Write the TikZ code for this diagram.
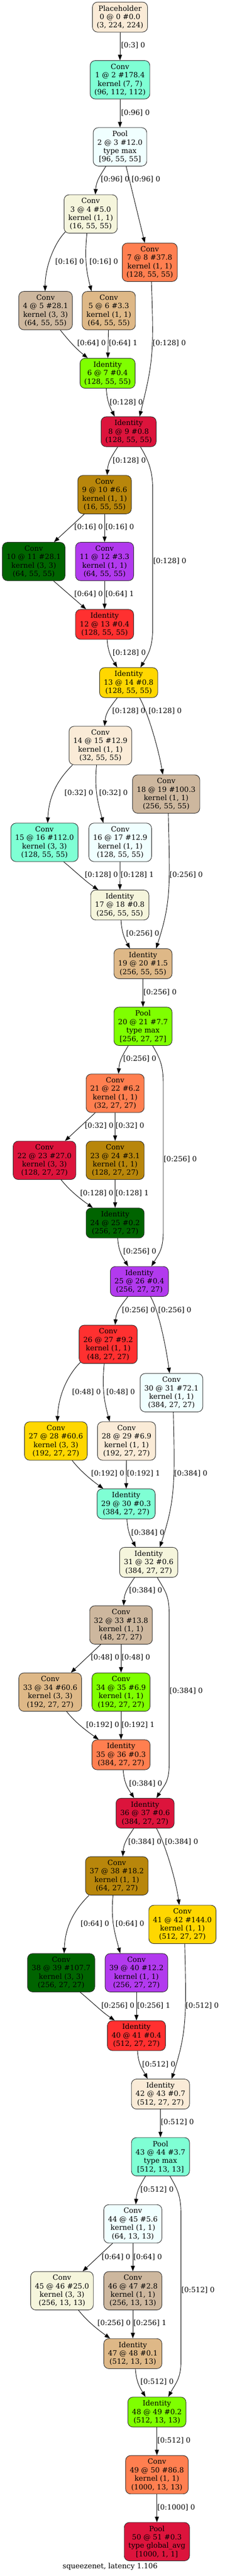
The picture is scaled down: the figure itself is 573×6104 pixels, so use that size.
\documentclass[tikz,border=0pt]{standalone}
\usepackage{fontspec}
\setmainfont{DejaVu Serif}
\usepackage{tikz}
\usetikzlibrary{arrows.meta,calc}
\definecolor{antiquewhite}{HTML}{FAEBD7}
\definecolor{aquamarine}{HTML}{7FFFD4}
\definecolor{azure}{HTML}{F0FFFF}
\definecolor{beige}{HTML}{F5F5DC}
\definecolor{bisque3}{HTML}{CDB79E}
\definecolor{burlywood}{HTML}{DEB887}
\definecolor{chartreuse}{HTML}{7FFF00}
\definecolor{coral}{HTML}{FF7F50}
\definecolor{crimson}{HTML}{DC143C}
\definecolor{darkgoldenrod}{HTML}{B8860B}
\definecolor{darkgreen}{HTML}{006400}
\definecolor{darkorchid2}{HTML}{B23AEE}
\definecolor{firebrick1}{HTML}{FF3030}
\definecolor{gold}{HTML}{FFD700}
\begin{document}
\begin{tikzpicture}[x=1pt,y=-1pt,
	box/.style={draw=black!85,line width=1.1pt,rounded corners=12pt,align=center,inner xsep=10pt,inner ysep=0pt,font=\fontsize{17}{20}\selectfont},
	op/.style={box,fill=#1,minimum height=91pt},
	sum/.style={box,fill=#1,minimum height=71pt},
	flow/.style={line width=1.1pt,-{Triangle[length=13pt,width=9.5pt]}},
	lbl/.style={anchor=west,inner sep=0pt,font=\fontsize{17}{20}\selectfont}]
	\useasboundingbox (0,0) rectangle (573,6104);
	\node[sum=antiquewhite] (n0) at (284.5,40.5) {Placeholder\\ 0 @ 0 \#0.0\\ (3, 224, 224)};
	\node[op=aquamarine] (n1) at (284.5,189) {Conv\\ 1 @ 2 \#178.4\\ kernel (7, 7)\\ (96, 112, 112)};
	\node[op=azure] (n2) at (284.5,348) {Pool\\ 2 @ 3 \#12.0\\ type max\\ {[}96, 55, 55]};
	\node[op=beige] (n3) at (215,507) {Conv\\ 3 @ 4 \#5.0\\ kernel (1, 1)\\ (16, 55, 55)};
	\node[op=bisque3] (n4) at (108,736) {Conv\\ 4 @ 5 \#28.1\\ kernel (3, 3)\\ (64, 55, 55)};
	\node[op=burlywood] (n5) at (258,736) {Conv\\ 5 @ 6 \#3.3\\ kernel (1, 1)\\ (64, 55, 55)};
	\node[sum=chartreuse] (n6) at (255,884.5) {Identity\\ 6 @ 7 \#0.4\\ (128, 55, 55)};
	\node[op=coral] (n7) at (355,621.5) {Conv\\ 7 @ 8 \#37.8\\ kernel (1, 1)\\ (128, 55, 55)};
	\node[sum=crimson] (n8) at (305,1023) {Identity\\ 8 @ 9 \#0.8\\ (128, 55, 55)};
	\node[op=darkgoldenrod] (n9) at (248,1172) {Conv\\ 9 @ 10 \#6.6\\ kernel (1, 1)\\ (16, 55, 55)};
	\node[op=darkgreen] (n10) at (80,1330.5) {Conv\\ 10 @ 11 \#28.1\\ kernel (3, 3)\\ (64, 55, 55)};
	\node[op=darkorchid2] (n11) at (248,1330.5) {Conv\\ 11 @ 12 \#3.3\\ kernel (1, 1)\\ (64, 55, 55)};
	\node[sum=firebrick1] (n12) at (248,1479.5) {Identity\\ 12 @ 13 \#0.4\\ (128, 55, 55)};
	\node[sum=gold] (n13) at (305,1617.5) {Identity\\ 13 @ 14 \#0.8\\ (128, 55, 55)};
	\node[op=antiquewhite] (n14) at (238,1766.5) {Conv\\ 14 @ 15 \#12.9\\ kernel (1, 1)\\ (32, 55, 55)};
	\node[op=aquamarine] (n15) at (105.5,1996) {Conv\\ 15 @ 16 \#112.0\\ kernel (3, 3)\\ (128, 55, 55)};
	\node[op=azure] (n16) at (285,1996) {Conv\\ 16 @ 17 \#12.9\\ kernel (1, 1)\\ (128, 55, 55)};
	\node[sum=beige] (n17) at (284,2144.5) {Identity\\ 17 @ 18 \#0.8\\ (256, 55, 55)};
	\node[op=bisque3] (n18) at (394,1881.5) {Conv\\ 18 @ 19 \#100.3\\ kernel (1, 1)\\ (256, 55, 55)};
	\node[sum=burlywood] (n19) at (339,2283.5) {Identity\\ 19 @ 20 \#1.5\\ (256, 55, 55)};
	\node[op=chartreuse] (n20) at (339,2432) {Pool\\ 20 @ 21 \#7.7\\ type max\\ {[}256, 27, 27]};
	\node[op=coral] (n21) at (273,2590.5) {Conv\\ 21 @ 22 \#6.2\\ kernel (1, 1)\\ (32, 27, 27)};
	\node[op=crimson] (n22) at (105.5,2749.5) {Conv\\ 22 @ 23 \#27.0\\ kernel (3, 3)\\ (128, 27, 27)};
	\node[op=darkgoldenrod] (n23) at (273,2749.5) {Conv\\ 23 @ 24 \#3.1\\ kernel (1, 1)\\ (128, 27, 27)};
	\node[sum=darkgreen] (n24) at (273,2898) {Identity\\ 24 @ 25 \#0.2\\ (256, 27, 27)};
	\node[sum=darkorchid2] (n25) at (330.5,3036.5) {Identity\\ 25 @ 26 \#0.4\\ (256, 27, 27)};
	\node[op=firebrick1] (n26) at (256.5,3185.5) {Conv\\ 26 @ 27 \#9.2\\ kernel (1, 1)\\ (48, 27, 27)};
	\node[op=gold] (n27) at (132.5,3414.5) {Conv\\ 27 @ 28 \#60.6\\ kernel (3, 3)\\ (192, 27, 27)};
	\node[op=antiquewhite] (n28) at (300,3414.5) {Conv\\ 28 @ 29 \#6.9\\ kernel (1, 1)\\ (192, 27, 27)};
	\node[sum=aquamarine] (n29) at (299,3563.5) {Identity\\ 29 @ 30 \#0.3\\ (384, 27, 27)};
	\node[op=azure] (n30) at (406.5,3300) {Conv\\ 30 @ 31 \#72.1\\ kernel (1, 1)\\ (384, 27, 27)};
	\node[sum=beige] (n31) at (352.5,3702) {Identity\\ 31 @ 32 \#0.6\\ (384, 27, 27)};
	\node[op=bisque3] (n32) at (287,3850.5) {Conv\\ 32 @ 33 \#13.8\\ kernel (1, 1)\\ (48, 27, 27)};
	\node[op=burlywood] (n33) at (119,4009.5) {Conv\\ 33 @ 34 \#60.6\\ kernel (3, 3)\\ (192, 27, 27)};
	\node[op=chartreuse] (n34) at (287,4009.5) {Conv\\ 34 @ 35 \#6.9\\ kernel (1, 1)\\ (192, 27, 27)};
	\node[sum=coral] (n35) at (287,4158) {Identity\\ 35 @ 36 \#0.3\\ (384, 27, 27)};
	\node[sum=crimson] (n36) at (344,4296.5) {Identity\\ 36 @ 37 \#0.6\\ (384, 27, 27)};
	\node[op=darkgoldenrod] (n37) at (277,4445) {Conv\\ 37 @ 38 \#18.2\\ kernel (1, 1)\\ (64, 27, 27)};
	\node[op=darkgreen] (n38) at (145,4674.5) {Conv\\ 38 @ 39 \#107.7\\ kernel (3, 3)\\ (256, 27, 27)};
	\node[op=darkorchid2] (n39) at (323.5,4674.5) {Conv\\ 39 @ 40 \#12.2\\ kernel (1, 1)\\ (256, 27, 27)};
	\node[sum=firebrick1] (n40) at (323.5,4823.5) {Identity\\ 40 @ 41 \#0.4\\ (512, 27, 27)};
	\node[op=gold] (n41) at (432.5,4560) {Conv\\ 41 @ 42 \#144.0\\ kernel (1, 1)\\ (512, 27, 27)};
	\node[sum=antiquewhite] (n42) at (380.5,4962) {Identity\\ 42 @ 43 \#0.7\\ (512, 27, 27)};
	\node[op=aquamarine] (n43) at (380.5,5110.5) {Pool\\ 43 @ 44 \#3.7\\ type max\\ {[}512, 13, 13]};
	\node[op=azure] (n44) at (315,5269.5) {Conv\\ 44 @ 45 \#5.6\\ kernel (1, 1)\\ (64, 13, 13)};
	\node[op=beige] (n45) at (147,5428) {Conv\\ 45 @ 46 \#25.0\\ kernel (3, 3)\\ (256, 13, 13)};
	\node[op=bisque3] (n46) at (315,5428) {Conv\\ 46 @ 47 \#2.8\\ kernel (1, 1)\\ (256, 13, 13)};
	\node[sum=burlywood] (n47) at (315,5577) {Identity\\ 47 @ 48 \#0.1\\ (512, 13, 13)};
	\node[sum=chartreuse] (n48) at (372,5715.5) {Identity\\ 48 @ 49 \#0.2\\ (512, 13, 13)};
	\node[op=coral] (n49) at (372,5864) {Conv\\ 49 @ 50 \#86.8\\ kernel (1, 1)\\ (1000, 13, 13)};
	\node[op=crimson] (n50) at (372,6022.5) {Pool\\ 50 @ 51 \#0.3\\ type global\_avg\\ {[}1000, 1, 1]};
	\node[lbl,anchor=center] (cap) at (261,6082) {squeezenet, latency 1.106};
	\draw[flow] (n0) -- (n1);
	\draw[flow] (n1) -- (n2);
	\draw[flow] ($(n2.south)+(-33.5,0)$) .. controls +(-12.5,21) and +(2.5,-34) .. ($(n3.north)+(11,0)$);
	\draw[flow] ($(n2.south)+(14.5,0)$) -- ($(n7.north)+(-11.7,0)$);
	\draw[flow] ($(n3.south west)+(3.5,-3.5)$) .. controls +(-25,25) and +(0,-60) .. ($(n4.north)+(-1,0)$);
	\draw[flow] ($(n3.south)+(-9,0)$) .. controls +(-6,60) and +(-12,-45) .. ($(n5.north)+(-41,0)$);
	\draw[flow] ($(n4.south)+(35,0)$) .. controls +(22,28) and +(-25,-20) .. ($(n6.north)+(-47,0)$);
	\draw[flow] (n5) -- (n6);
	\draw[flow] ($(n6.south)+(-3,0)$) .. controls +(2,33) and +(-10,-20) .. ($(n8.north)+(-33,0)$);
	\draw[flow] ($(n7.south)+(4,0)$) .. controls +(6,170) and +(32,-130) .. ($(n8.north)+(26,0)$);
	\draw[flow] ($(n8.south)+(-26,0)$) .. controls +(-12.5,20) and +(2.5,-34) .. ($(n9.north)+(6,0)$);
	\draw[flow] ($(n8.south)+(28,0)$) .. controls +(18,30) and +(0,-45) .. ++(29,100) -- ++(0,330) .. controls +(0,45) and +(18,-30) .. ($(n13.north)+(28,0)$);
	\draw[flow] ($(n9.south)+(-48,0)$) -- ($(n10.north)+(48,0)$);
	\draw[flow] (n9) -- (n11);
	\draw[flow] ($(n10.south)+(47,0)$) -- ($(n12.north)+(-44,0)$);
	\draw[flow] (n11) -- (n12);
	\draw[flow] ($(n12.south)+(6,0)$) .. controls +(2.4,33.5) and +(-12,-20) .. ($(n13.north)+(-27,0)$);
	\draw[flow] ($(n13.south)+(-27,0)$) .. controls +(-15,20) and +(3,-34) .. ($(n14.north)+(10,0)$);
	\draw[flow] ($(n13.south)+(26,0)$) .. controls +(20,35) and +(-10,-60) .. ($(n18.north)+(-8,0)$);
	\draw[flow] ($(n14.south)+(-66,0)$) .. controls +(-30,30) and +(3,-70) .. ($(n15.north)+(7.5,0)$);
	\draw[flow] ($(n14.south)+(-9,0)$) .. controls +(-6,60) and +(-12,-45) .. ($(n16.north)+(-40,0)$);
	\draw[flow] ($(n15.south)+(45.5,0)$) .. controls +(30,25) and +(-30,-20) .. ($(n17.north)+(-51,0)$);
	\draw[flow] (n16) -- (n17);
	\draw[flow] ($(n18.south)+(5,0)$) .. controls +(4,170) and +(36,-110) .. ($(n19.north)+(31,0)$);
	\draw[flow] ($(n17.south)+(3,0)$) .. controls +(2,34) and +(-10.5,-20) .. ($(n19.north)+(-31,0)$);
	\draw[flow] (n19) -- (n20);
	\draw[flow] ($(n20.south)+(-35,0)$) .. controls +(-11.5,20) and +(2.3,-34) .. ($(n21.north)+(8,0)$);
	\draw[flow] ($(n20.south)+(23,0)$) .. controls +(17,30) and +(0,-45) .. ++(25,90) -- ++(0,350) .. controls +(0,42) and +(18,-30) .. ($(n25.north)+(28.5,0)$);
	\draw[flow] ($(n21.south)+(-47,0)$) -- ($(n22.north)+(48.5,0)$);
	\draw[flow] (n21) -- (n23);
	\draw[flow] ($(n22.south)+(39.5,0)$) .. controls +(22,28) and +(-25,-18) .. ($(n24.north)+(-53,0)$);
	\draw[flow] (n23) -- (n24);
	\draw[flow] ($(n24.south)+(6,0)$) .. controls +(2.5,34) and +(-12.5,-20) .. ($(n25.north)+(-26.5,0)$);
	\draw[flow] ($(n25.south)+(-27.5,0)$) .. controls +(-15,20) and +(3,-34) .. ($(n26.north)+(16.5,0)$);
	\draw[flow] ($(n25.south)+(26.5,0)$) .. controls +(20,35) and +(-8,-60) .. ($(n30.north)+(-4.5,0)$);
	\draw[flow] ($(n26.south west)+(3.5,-3.5)$) .. controls +(-25,25) and +(3,-70) .. ($(n27.north)+(3.5,0)$);
	\draw[flow] ($(n26.south)+(-9.5,0)$) .. controls +(-6,60) and +(-12,-45) .. ($(n28.north)+(-40,0)$);
	\draw[flow] ($(n27.south)+(38.5,0)$) .. controls +(22,28) and +(-25,-18) .. ($(n29.north)+(-54,0)$);
	\draw[flow] (n28) -- (n29);
	\draw[flow] ($(n30.south)+(4.5,0)$) .. controls +(4,170) and +(36,-110) .. ($(n31.north)+(26.5,0)$);
	\draw[flow] ($(n29.south)+(2,0)$) .. controls +(2,34) and +(-10.5,-20) .. ($(n31.north)+(-30.5,0)$);
	\draw[flow] ($(n31.south)+(-33.5,0)$) .. controls +(-13,20) and +(2.6,-34) .. ($(n32.north)+(6,0)$);
	\draw[flow] ($(n31.south)+(20.5,0)$) .. controls +(17,30) and +(0,-45) .. ++(28,85) -- ++(0,358) .. controls +(0,42) and +(18,-30) .. ($(n36.north)+(27,0)$);
	\draw[flow] ($(n32.south)+(-48,0)$) -- ($(n33.north)+(49,0)$);
	\draw[flow] (n32) -- (n34);
	\draw[flow] ($(n33.south)+(39,0)$) .. controls +(22,28) and +(-25,-18) .. ($(n35.north)+(-53,0)$);
	\draw[flow] (n34) -- (n35);
	\draw[flow] ($(n35.south)+(5,0)$) .. controls +(2.6,34) and +(-13,-20) .. ($(n36.north)+(-26,0)$);
	\draw[flow] ($(n36.south)+(-27,0)$) .. controls +(-13,20) and +(2.6,-33.5) .. ($(n37.north)+(14,0)$);
	\draw[flow] ($(n36.south)+(27,0)$) .. controls +(20,35) and +(-8,-60) .. ($(n41.north)+(-7.5,0)$);
	\draw[flow] ($(n37.south)+(-66,0)$) .. controls +(-30,30) and +(3,-70) .. ($(n38.north)+(7,0)$);
	\draw[flow] ($(n37.south)+(-9,0)$) .. controls +(-6,60) and +(-12,-45) .. ($(n39.north)+(-38.5,0)$);
	\draw[flow] ($(n38.south)+(45,0)$) .. controls +(30,25) and +(-30,-20) .. ($(n40.north)+(-51.5,0)$);
	\draw[flow] (n39) -- (n40);
	\draw[flow] ($(n41.south)+(5.5,0)$) .. controls +(4,170) and +(36,-110) .. ($(n42.north)+(26.5,0)$);
	\draw[flow] ($(n40.south)+(2.5,0)$) .. controls +(2,34) and +(-10.5,-20) .. ($(n42.north)+(-30.5,0)$);
	\draw[flow] (n42) -- (n43);
	\draw[flow] ($(n43.south)+(-35.5,0)$) .. controls +(-11.5,20) and +(2.3,-34) .. ($(n44.north)+(7,0)$);
	\draw[flow] ($(n43.south)+(22.5,0)$) .. controls +(17,30) and +(0,-45) .. ++(26,90) -- ++(0,350) .. controls +(0,40) and +(16,-30) .. ($(n48.north)+(27,0)$);
	\draw[flow] ($(n44.south)+(-48,0)$) -- ($(n45.north)+(49,0)$);
	\draw[flow] (n44) -- (n46);
	\draw[flow] ($(n45.south)+(39,0)$) .. controls +(22,28) and +(-25,-18) .. ($(n47.north)+(-54,0)$);
	\draw[flow] (n46) -- (n47);
	\draw[flow] ($(n47.south)+(6,0)$) .. controls +(2.4,34) and +(-12,-20) .. ($(n48.north)+(-27,0)$);
	\draw[flow] (n48) -- (n49);
	\draw[flow] (n49) -- (n50);
	\node[lbl] (l1) at (287,108) {[0:3] 0};
	\node[lbl] (l2) at (287,267) {[0:96] 0};
	\node[lbl] (l3) at (239,425) {[0:96] 0};
	\node[lbl] (l4) at (312,425) {[0:96] 0};
	\node[lbl] (l5) at (131,620) {[0:16] 0};
	\node[lbl] (l6) at (212,620) {[0:16] 0};
	\node[lbl] (l7) at (183,813) {[0:64] 0};
	\node[lbl] (l8) at (258,813) {[0:64] 1};
	\node[lbl] (l9) at (362,813) {[0:128] 0};
	\node[lbl] (l10) at (260,953) {[0:128] 0};
	\node[lbl] (l11) at (267,1092) {[0:128] 0};
	\node[lbl] (l12) at (363,1329) {[0:128] 0};
	\node[lbl] (l13) at (176,1249) {[0:16] 0};
	\node[lbl] (l14) at (250,1249) {[0:16] 0};
	\node[lbl] (l15) at (176,1408) {[0:64] 0};
	\node[lbl] (l16) at (250,1408) {[0:64] 1};
	\node[lbl] (l17) at (267,1547) {[0:128] 0};
	\node[lbl] (l18) at (266,1685) {[0:128] 0};
	\node[lbl] (l19) at (352,1685) {[0:128] 0};
	\node[lbl] (l20) at (153,1879) {[0:32] 0};
	\node[lbl] (l21) at (235,1879) {[0:32] 0};
	\node[lbl] (l22) at (201,2073) {[0:128] 0};
	\node[lbl] (l23) at (286,2073) {[0:128] 1};
	\node[lbl] (l24) at (402,2073) {[0:256] 0};
	\node[lbl] (l25) at (299,2212) {[0:256] 0};
	\node[lbl] (l26) at (340,2351) {[0:256] 0};
	\node[lbl] (l27) at (292,2509) {[0:256] 0};
	\node[lbl] (l28) at (388,2747) {[0:256] 0};
	\node[lbl] (l29) at (201,2668) {[0:32] 0};
	\node[lbl] (l30) at (274,2668) {[0:32] 0};
	\node[lbl] (l31) at (190,2827) {[0:128] 0};
	\node[lbl] (l32) at (274,2827) {[0:128] 1};
	\node[lbl] (l33) at (292,2965) {[0:256] 0};
	\node[lbl] (l34) at (289,3104) {[0:256] 0};
	\node[lbl] (l35) at (375,3104) {[0:256] 0};
	\node[lbl] (l36) at (171,3299) {[0:48] 0};
	\node[lbl] (l37) at (252,3299) {[0:48] 0};
	\node[lbl] (l38) at (216,3492) {[0:192] 0};
	\node[lbl] (l39) at (301,3492) {[0:192] 1};
	\node[lbl] (l40) at (413,3492) {[0:384] 0};
	\node[lbl] (l41) at (311,3632) {[0:384] 0};
	\node[lbl] (l42) at (306,3769) {[0:384] 0};
	\node[lbl] (l43) at (402,4007) {[0:384] 0};
	\node[lbl] (l44) at (215,3928) {[0:48] 0};
	\node[lbl] (l45) at (288,3928) {[0:48] 0};
	\node[lbl] (l46) at (204,4087) {[0:192] 0};
	\node[lbl] (l47) at (288,4087) {[0:192] 1};
	\node[lbl] (l48) at (306,4226) {[0:384] 0};
	\node[lbl] (l49) at (304,4364) {[0:384] 0};
	\node[lbl] (l50) at (391,4364) {[0:384] 0};
	\node[lbl] (l51) at (191,4559) {[0:64] 0};
	\node[lbl] (l52) at (274,4559) {[0:64] 0};
	\node[lbl] (l53) at (240,4753) {[0:256] 0};
	\node[lbl] (l54) at (325,4753) {[0:256] 1};
	\node[lbl] (l55) at (440,4753) {[0:512] 0};
	\node[lbl] (l56) at (337,4892) {[0:512] 0};
	\node[lbl] (l57) at (381,5029) {[0:512] 0};
	\node[lbl] (l58) at (333,5188) {[0:512] 0};
	\node[lbl] (l59) at (430,5426) {[0:512] 0};
	\node[lbl] (l60) at (241,5348) {[0:64] 0};
	\node[lbl] (l61) at (316,5348) {[0:64] 0};
	\node[lbl] (l62) at (231,5505) {[0:256] 0};
	\node[lbl] (l63) at (316,5505) {[0:256] 1};
	\node[lbl] (l64) at (333,5644) {[0:512] 0};
	\node[lbl] (l65) at (373,5783) {[0:512] 0};
	\node[lbl] (l66) at (373,5942) {[0:1000] 0};
\end{tikzpicture}
\end{document}
